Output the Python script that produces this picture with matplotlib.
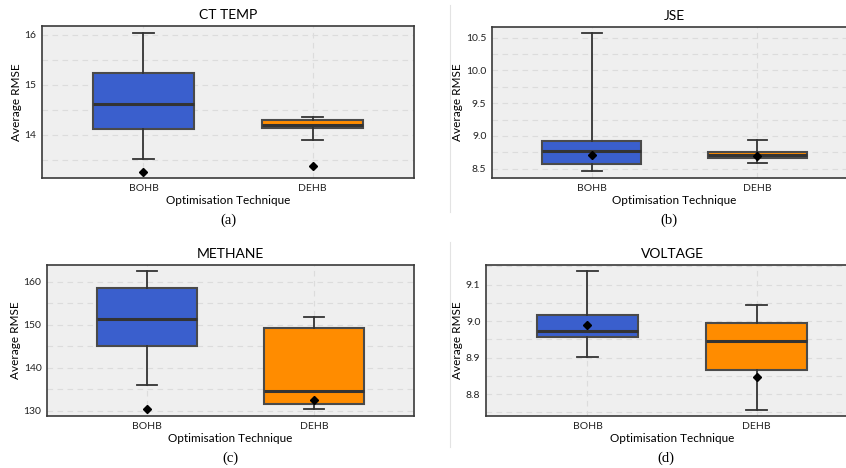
import matplotlib.pyplot as plt
from matplotlib.lines import Line2D
from matplotlib.ticker import MultipleLocator

techniques = ['BOHB', 'DEHB']
titles = ['CT TEMP', 'JSE', 'METHANE', 'VOLTAGE']
letters = ['(a)', '(b)', '(c)', '(d)']

# box stats per panel: [BOHB, DEHB]
whislo = [[13.53, 13.91], [8.46, 8.59], [136.1, 130.5], [8.903, 8.757]]
q1 = [[14.12, 14.14], [8.58, 8.66], [145.1, 131.6], [8.956, 8.867]]
med = [[14.62, 14.21], [8.77, 8.71], [151.4, 134.6], [8.974, 8.946]]
q3 = [[15.25, 14.30], [8.93, 8.76], [158.5, 149.3], [9.017, 8.995]]
whishi = [[16.03, 14.37], [10.57, 8.94], [162.6, 151.7], [9.138, 9.044]]
# diamond markers
points = [[13.27, 13.39], [8.71, 8.70], [130.5, 132.6], [8.990, 8.848]]

ylims = [(13.14, 16.18), (8.36, 10.66), (128.8, 163.9), (8.74, 9.154)]
major = [1, 0.5, 10, 0.1]
minor = [0.5, 0.25, 5, 0.05]

colors = ['#3A5FCD', '#FF8C00']
edge = '#4a4a4a'

plt.rcParams['font.family'] = ['Lato', 'DejaVu Sans']

W, H = 846, 468
fig = plt.figure(figsize=(W / 100, H / 100), dpi=100)

# axes boxes in pixels: left, top, right, bottom
boxes = [(42, 26, 414, 178), (492, 27, 857, 178),
         (47, 265, 414, 416), (486, 265, 858, 416)]

for i in range(4):
    l, t, r, b = boxes[i]
    ax = fig.add_axes([l / W, 1 - b / H, (r - l) / W, (b - t) / H])
    ax.set_facecolor('#efefef')
    stats = []
    for j in range(2):
        stats.append(dict(med=med[i][j], q1=q1[i][j], q3=q3[i][j],
                          whislo=whislo[i][j], whishi=whishi[i][j], fliers=[]))
    bp = ax.bxp(stats, positions=[0, 1], widths=0.6, patch_artist=True,
                showfliers=False, capwidths=0.12,
                boxprops=dict(edgecolor=edge, linewidth=1.5),
                medianprops=dict(color='#333333', linewidth=2.2),
                whiskerprops=dict(color='#333333', linewidth=1.3),
                capprops=dict(color='#333333', linewidth=1.3))
    for patch, c in zip(bp['boxes'], colors):
        patch.set_facecolor(c)
    ax.plot([0, 1], points[i], linestyle='none', marker='D', color='black',
            markersize=4.5, zorder=5)

    ax.set_xlim(-0.6, 1.6)
    ax.set_ylim(*ylims[i])
    ax.set_xticks([0, 1])
    ax.set_xticklabels(techniques)
    ax.yaxis.set_major_locator(MultipleLocator(major[i]))
    ax.yaxis.set_minor_locator(MultipleLocator(minor[i]))
    ax.grid(True, which='both', linestyle=(0, (5, 4)), color='#dcdcdc',
            linewidth=0.8)
    ax.set_axisbelow(True)
    ax.tick_params(which='both', length=0, labelsize=7.5, colors='#222222',
                   pad=4)
    for s in ax.spines.values():
        s.set_color('#3a3a3a')
        s.set_linewidth(1.2)
    ax.set_title(titles[i], fontsize=10, pad=5)
    ax.set_xlabel('Optimisation Technique', fontsize=8.5, labelpad=2)
    ax.set_ylabel('Average RMSE', fontsize=8.5, labelpad=2)
    cx = (l + r) / 2 if i % 2 == 0 else (l + 846) / 2
    fig.text(cx / W, 1 - (b + 42) / H, letters[i], ha='center', va='center',
             fontsize=10.5, family='Liberation Serif')

# faint separator lines on the left of right panels
fig.add_artist(Line2D([450 / W, 450 / W], [1 - 5 / H, 1 - 212 / H],
                      color='#e3e3e3', linewidth=0.8))
fig.add_artist(Line2D([450 / W, 450 / W], [1 - 242 / H, 1 - 447 / H],
                      color='#e3e3e3', linewidth=0.8))

fig.savefig('out.png', dpi=100, facecolor='white')
